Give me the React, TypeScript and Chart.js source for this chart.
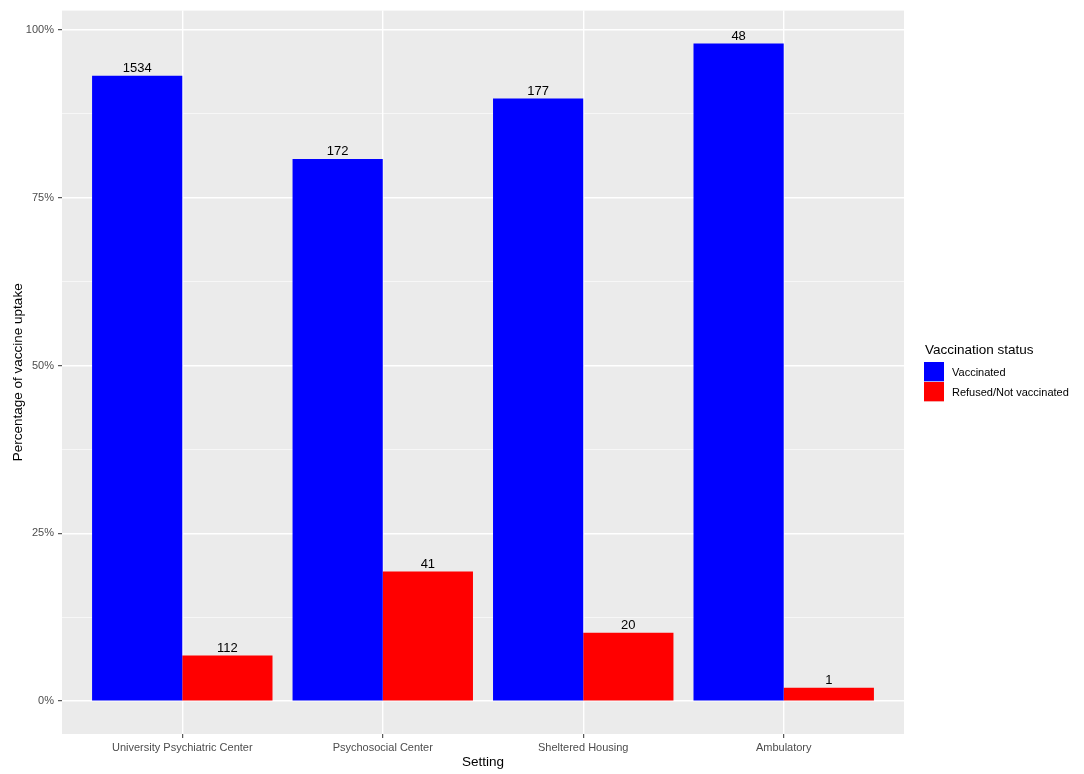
import { useEffect, useRef } from 'react';
import { Chart, registerables, type ChartConfiguration } from 'chart.js';

Chart.register(...registerables);

const settings = ['University Psychiatric Center', 'Psychosocial Center', 'Sheltered Housing', 'Ambulatory'];
const seriesNames = ['Vaccinated', 'Refused/Not vaccinated'];
const vaccinatedPct = [93.2, 80.8, 89.8, 98.0];
const refusedPct = [6.8, 19.3, 10.2, 2.0];
const vaccinatedCount = [1534, 172, 177, 48];
const refusedCount = [112, 41, 20, 1];
const yTicks = [0, 12.5, 25, 37.5, 50, 62.5, 75, 87.5, 100];

const FONT = '"Liberation Sans", Arial, sans-serif';
const colors = ['#0000FF', '#FF0000'];

export default function App() {
  const chartRef = useRef<HTMLCanvasElement>(null);
  const chartInstanceRef = useRef<Chart | null>(null);

  useEffect(() => {
    document.body.style.margin = '0';
    if (chartInstanceRef.current) {
      chartInstanceRef.current.destroy();
    }
    const canvas = chartRef.current;
    if (!canvas) {
      return;
    }

    const counts = [vaccinatedCount, refusedCount];

    const panelPlugin = {
      id: 'panel',
      beforeDraw(chart: Chart) {
        const { ctx, chartArea } = chart;
        ctx.save();
        ctx.fillStyle = '#EBEBEB';
        ctx.fillRect(chartArea.left, chartArea.top, chartArea.right - chartArea.left, chartArea.bottom - chartArea.top);
        ctx.restore();
      },
    };

    const labelsPlugin = {
      id: 'barLabels',
      afterDatasetsDraw(chart: Chart) {
        const { ctx } = chart;
        ctx.save();
        ctx.font = `13px ${FONT}`;
        ctx.fillStyle = '#000000';
        ctx.textAlign = 'center';
        ctx.textBaseline = 'alphabetic';
        chart.data.datasets.forEach((_, di) => {
          chart.getDatasetMeta(di).data.forEach((bar, i) => {
            ctx.fillText(String(counts[di][i]), bar.x, bar.y - 3.5);
          });
        });
        ctx.restore();
      },
    };

    const decorPlugin = {
      id: 'decor',
      afterDraw(chart: Chart) {
        const { ctx, chartArea } = chart;
        ctx.save();
        ctx.fillStyle = '#000000';
        ctx.font = `13.5px ${FONT}`;
        ctx.textAlign = 'center';
        ctx.textBaseline = 'middle';
        ctx.fillText('Setting', (chartArea.left + chartArea.right) / 2, 762);
        ctx.save();
        ctx.translate(18, (chartArea.top + chartArea.bottom) / 2);
        ctx.rotate(-Math.PI / 2);
        ctx.fillText('Percentage of vaccine uptake', 0, 0);
        ctx.restore();

        // legend
        ctx.textAlign = 'left';
        ctx.textBaseline = 'alphabetic';
        ctx.fillText('Vaccination status', 925, 354);
        ctx.font = `11px ${FONT}`;
        ctx.textBaseline = 'middle';
        seriesNames.forEach((name, i) => {
          const top = 362 + i * 20;
          ctx.fillStyle = '#F2F2F2';
          ctx.fillRect(924, top, 20, 20);
          ctx.fillStyle = colors[i];
          ctx.fillRect(924, top, 20, 19.3);
          ctx.fillStyle = '#000000';
          ctx.fillText(name, 952, top + 10.5);
        });
        ctx.restore();
      },
    };

    const config: ChartConfiguration<'bar'> = {
      type: 'bar',
      data: {
        datasets: [
          {
            label: seriesNames[0],
            data: settings.map((_, i) => ({ x: i + 1, y: vaccinatedPct[i] })),
            backgroundColor: colors[0],
            categoryPercentage: 0.9,
            barPercentage: 1,
          },
          {
            label: seriesNames[1],
            data: settings.map((_, i) => ({ x: i + 1, y: refusedPct[i] })),
            backgroundColor: colors[1],
            categoryPercentage: 0.9,
            barPercentage: 1,
          },
        ],
      },
      options: {
        responsive: false,
        animation: false,
        layout: { padding: { top: 10, right: 180, left: 0, bottom: 0 } },
        plugins: {
          legend: { display: false },
          tooltip: { enabled: false },
        },
        scales: {
          x: {
            type: 'linear',
            min: 0.4,
            max: 4.6,
            offset: false,
            afterBuildTicks: scale => {
              scale.ticks = settings.map((_, i) => ({ value: i + 1 }));
            },
            afterFit: scale => {
              scale.height = 40;
            },
            border: { display: false },
            grid: {
              offset: false,
              color: '#FFFFFF',
              lineWidth: 1.4,
              tickColor: '#333333',
              tickWidth: 1,
              tickLength: 4,
            },
            ticks: {
              autoSkip: false,
              maxRotation: 0,
              padding: 3,
              color: '#4D4D4D',
              font: { family: FONT, size: 11 },
              callback: value => settings[Number(value) - 1] ?? '',
            },
          },
          y: {
            type: 'linear',
            min: -4.9,
            max: 102.9,
            afterBuildTicks: scale => {
              scale.ticks = yTicks.map(v => ({ value: v }));
            },
            afterFit: scale => {
              scale.width = 62;
            },
            border: { display: false },
            grid: {
              color: '#FFFFFF',
              lineWidth: c => (c.tick && c.tick.value % 25 === 0 ? 1.4 : 0.6),
              tickColor: c => (c.tick && c.tick.value % 25 === 0 ? '#333333' : 'rgba(0,0,0,0)'),
              tickWidth: 1,
              tickLength: 4,
            },
            ticks: {
              autoSkip: false,
              padding: 4,
              color: '#4D4D4D',
              font: { family: FONT, size: 11 },
              callback: value => (Number(value) % 25 === 0 ? `${value}%` : ''),
            },
          },
        },
      },
      plugins: [panelPlugin, labelsPlugin, decorPlugin],
    };

    chartInstanceRef.current = new Chart(canvas, config);

    return () => {
      chartInstanceRef.current?.destroy();
    };
  }, []);

  return <canvas ref={chartRef} width={1084} height={774} style={{ display: 'block' }} />;
}
